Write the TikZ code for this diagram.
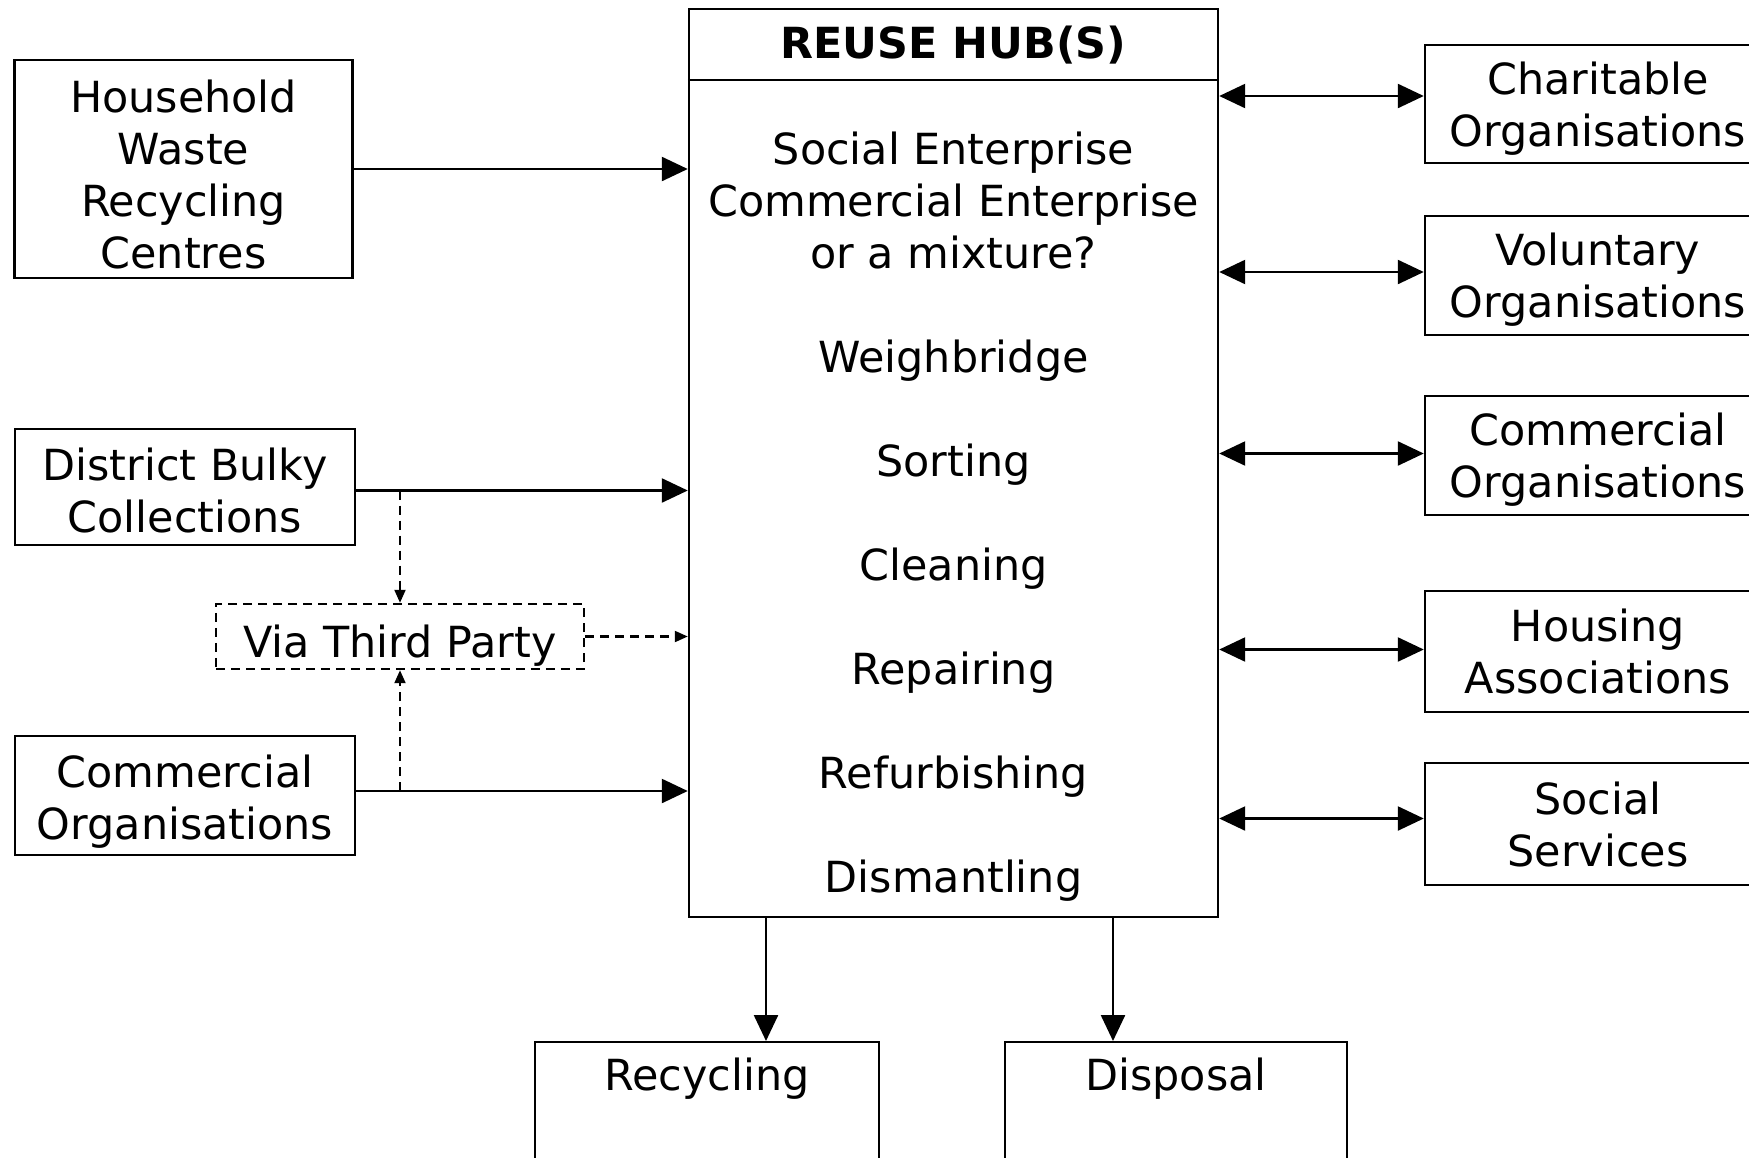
\documentclass[tikz,border=0pt]{standalone}
\usepackage{fontspec}
\setmainfont{DejaVu Sans}
\usetikzlibrary{arrows.meta,calc}
\newcommand{\topstrut}[1]{\rule{0pt}{#1}}

\begin{document}
\begin{tikzpicture}[
  every node/.style={font=\fontsize{12.2}{14.8}\selectfont},
  box/.style={draw=black,line width=0.7pt,rectangle,align=center,inner sep=0pt,text depth=0pt},
  arr/.style={line width=0.7pt,-{Triangle[length=0.26cm,width=0.24cm]}},
  dblarr/.style={line width=0.7pt,{Triangle[length=0.26cm,width=0.24cm]}-{Triangle[length=0.26cm,width=0.24cm]}},
  dasharr/.style={line width=0.6pt,dash pattern=on 0.09cm off 0.06cm,-{Triangle[length=0.13cm,width=0.11cm]}}
]
\useasboundingbox (0,0) rectangle (17.49,-11.57);
\clip (0,0) rectangle (17.49,-11.57);
\fill[white] (0,0) rectangle (17.49,-11.57);

% sources on the left
\node[box,minimum width=3.38cm,minimum height=2.18cm] (hrc) at (1.835,-1.69) {\topstrut{12.5pt}Household\\Waste\\Recycling\\Centres};
\node[box,minimum width=3.40cm,minimum height=1.16cm] (dbc) at (1.85,-4.87) {\topstrut{11.2pt}District Bulky\\Collections};
\node[box,minimum width=3.40cm,minimum height=1.19cm] (com) at (1.85,-7.955) {\topstrut{10.2pt}Commercial\\Organisations};
\node[box,dash pattern=on 0.09cm off 0.06cm,minimum width=3.68cm,minimum height=0.65cm] (via) at (4.00,-6.365) {\topstrut{11.8pt}Via Third Party};

% the hub
\node[box,minimum width=5.29cm,minimum height=9.08cm] (hub) at (9.535,-4.63) {};
\node[font=\fontsize{12.2}{14.8}\selectfont\bfseries] (title) at (9.535,-0.455) {REUSE HUB(S)};
\draw[line width=0.7pt] ($(hub.north west)+(0,-0.72)$) -- ($(hub.north east)+(0,-0.72)$);
\node[align=center] (tasks) at (9.535,-5.165) {Social Enterprise\\Commercial Enterprise\\or a mixture?\\[\baselineskip]Weighbridge\\[\baselineskip]Sorting\\[\baselineskip]Cleaning\\[\baselineskip]Repairing\\[\baselineskip]Refurbishing\\[\baselineskip]Dismantling};

% partners on the right
\node[box,minimum width=3.46cm,minimum height=1.18cm] (cha) at (15.98,-1.04) {Charitable\\Organisations};
\node[box,minimum width=3.46cm,minimum height=1.19cm] (vol) at (15.98,-2.755) {Voluntary\\Organisations};
\node[box,minimum width=3.46cm,minimum height=1.19cm] (cor) at (15.98,-4.555) {Commercial\\Organisations};
\node[box,minimum width=3.46cm,minimum height=1.21cm] (hou) at (15.98,-6.515) {Housing\\Associations};
\node[box,minimum width=3.46cm,minimum height=1.22cm] (soc) at (15.98,-8.24) {Social\\Services};

% outputs
\node[box,anchor=north,minimum width=3.44cm,minimum height=2cm,label={[anchor=north,yshift=-0.045cm]north:Recycling}] (rec) at (7.07,-10.41) {};
\node[box,anchor=north,minimum width=3.42cm,minimum height=2cm,label={[anchor=north,yshift=-0.045cm]north:Disposal}] (dis) at (11.76,-10.41) {};

\draw[arr] (hrc.east) -- (hrc.east -| hub.west);
\coordinate (dbcout) at ($(dbc.east)+(0,-0.035)$);
\coordinate (comout) at ($(com.east)+(0,0.045)$);
\draw[arr] (dbcout) -- (dbcout -| hub.west);
\draw[arr] (comout) -- (comout -| hub.west);
\draw[dasharr] (via.north |- dbcout) -- (via.north);
\draw[dasharr] (via.south |- comout) -- (via.south);
\draw[dasharr] (via.east) -- (via.east -| hub.west);
\foreach \n/\d in {cha/0.08,vol/0.035,cor/0.02,hou/0.02,soc/0.055}
  \draw[dblarr] ($(\n.west -| hub.east)+(0,\d)$) -- ($(\n.west)+(0,\d)$);
\coordinate (recin) at ($(rec.north)+(0.59,0)$);
\coordinate (disin) at ($(dis.north)+(-0.63,0)$);
\draw[arr] (recin |- hub.south) -- (recin);
\draw[arr] (disin |- hub.south) -- (disin);
\end{tikzpicture}
\end{document}
